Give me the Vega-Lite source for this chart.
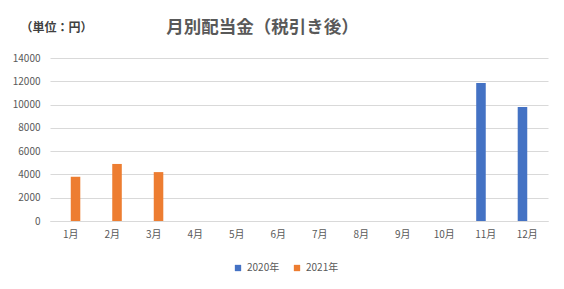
{
  "$schema": "https://vega.github.io/schema/vega-lite/v6.json",
  "width": 498,
  "height": 163,
  "autosize": {"type": "none"},
  "padding": {"left": 50, "top": 58, "right": 16, "bottom": 68},
  "background": "white",
  "title": {
    "text": "月別配当金（税引き後）",
    "anchor": "start",
    "dx": 154,
    "offset": -15,
    "fontSize": 17.5,
    "fontWeight": "bold",
    "color": "#595959",
    "font": "Noto Sans CJK JP"
  },
  "data": {
    "values": [
      {"month": "1月", "year": "2021年", "value": 3800},
      {"month": "2月", "year": "2021年", "value": 4900},
      {"month": "3月", "year": "2021年", "value": 4200},
      {"month": "11月", "year": "2020年", "value": 11850},
      {"month": "12月", "year": "2020年", "value": 9800}
    ]
  },
  "mark": {"type": "bar"},
  "encoding": {
    "x": {
      "field": "month",
      "type": "nominal",
      "scale": {
        "domain": ["1月","2月","3月","4月","5月","6月","7月","8月","9月","10月","11月","12月"],
        "paddingInner": 0.54,
        "paddingOuter": 0.27
      },
      "axis": {
        "title": null,
        "labelAngle": 0,
        "ticks": false,
        "domain": true,
        "domainColor": "#d9d9d9",
        "labelColor": "#595959",
        "labelFontSize": 10,
        "labelPadding": 8,
        "labelFont": "Noto Sans CJK JP"
      }
    },
    "xOffset": {
      "field": "year",
      "type": "nominal",
      "scale": {"domain": ["2020年", "2021年"], "paddingInner": 0}
    },
    "y": {
      "field": "value",
      "type": "quantitative",
      "scale": {"domain": [0, 14000]},
      "axis": {
        "title": "（単位：円）",
        "titleAngle": 0,
        "titleAlign": "left",
        "titleBaseline": "middle",
        "titleX": -30,
        "titleY": -31,
        "titleFontSize": 12,
        "titleFontWeight": "bold",
        "titleColor": "#404040",
        "titleFont": "Noto Sans CJK JP",
        "values": [0,2000,4000,6000,8000,10000,12000,14000],
        "format": "d",
        "domain": false,
        "ticks": false,
        "grid": true,
        "gridColor": "#d9d9d9",
        "labelColor": "#595959",
        "labelFontSize": 10,
        "labelPadding": 10,
        "labelFont": "Noto Sans CJK JP"
      }
    },
    "color": {
      "field": "year",
      "type": "nominal",
      "scale": {"domain": ["2020年", "2021年"], "range": ["#4472C4", "#ED7D31"]},
      "legend": {
        "title": null,
        "orient": "none",
        "direction": "horizontal",
        "legendX": 183,
        "legendY": 205,
        "symbolType": "square",
        "symbolSize": 40,
        "symbolStrokeWidth": 0,
        "labelColor": "#595959",
        "labelFontSize": 10,
        "labelFont": "Noto Sans CJK JP",
        "columnPadding": 12
      }
    }
  },
  "config": {
    "view": {"stroke": null},
    "font": "Noto Sans CJK JP"
  }
}
